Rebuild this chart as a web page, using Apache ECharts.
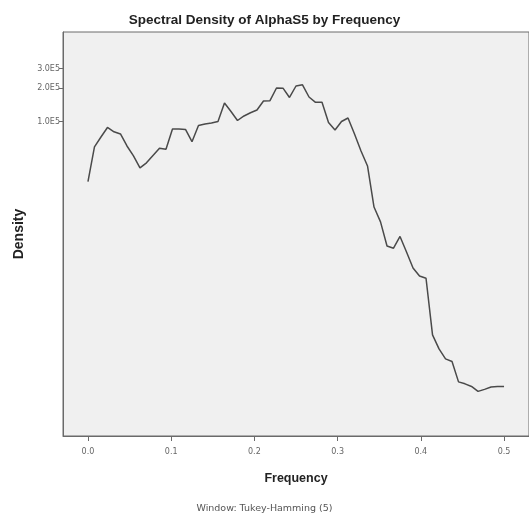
<!DOCTYPE html>
<html>
<head>
<meta charset="utf-8">
<script src="https://cdn.jsdelivr.net/npm/echarts@6/dist/echarts.min.js"></script>
<style>
  html, body { margin: 0; padding: 0; background: #fff; }
  #chart { width: 529px; height: 523px; }
</style>
</head>
<body>
<div id="chart"></div>
<script>
// Spectral density estimate, sampled at frequencies k/128 (k = 0..64)
var frequencies = [];
for (var k = 0; k <= 64; k++) frequencies.push(k / 128);

var density = [
  28800, 59200, 72800, 88700, 81100, 77500, 60400, 49100, 38300, 42600,
  49600, 57600, 56400, 86000, 86000, 85100, 66000, 92400, 95300, 97300,
  100400, 147400, 123600, 102500, 112600, 120300, 127500, 153600, 154600, 201200,
  200400, 165200, 209700, 215000, 166900, 149500, 149500, 98400, 84200, 100400,
  108000, 77500, 54500, 39900, 17000, 12500, 7590, 7240, 9240, 6700,
  4810, 4070, 3880, 1200, 896, 728, 689, 452, 434, 411,
  371, 387, 407, 410, 410
];

var xTicks = [0, 0.1, 0.2, 0.3, 0.4, 0.5];
var yTicks = [100000, 200000, 300000];

var chartTitle = 'Spectral Density of AlphaS5 by Frequency';
var footnote = 'Window: Tukey-Hamming (5)';

var points = frequencies.map(function (f, i) { return [f, density[i]]; });

var sans = 'Liberation Sans, Arial, sans-serif';
var wide = 'DejaVu Sans, sans-serif';

var chart = echarts.init(document.getElementById('chart'), null, { renderer: 'canvas' });
chart.setOption({
  animation: false,
  backgroundColor: '#ffffff',
  title: [
    {
      text: chartTitle,
      left: 'center',
      top: 8,
      textStyle: { fontFamily: sans, fontSize: 13.5, fontWeight: 'bold', color: '#222' }
    },
    {
      text: footnote,
      left: 'center',
      top: 499,
      textStyle: { fontFamily: wide, fontSize: 9.5, fontWeight: 'normal', color: '#555' }
    }
  ],
  grid: {
    left: 63,
    top: 32,
    right: -3,
    bottom: 87,
    show: true,
    backgroundColor: '#f0f0f0',
    borderColor: '#6a6a6a',
    borderWidth: 1
  },
  xAxis: {
    type: 'value',
    min: -0.03,
    max: 0.53,
    name: 'Frequency',
    nameLocation: 'middle',
    nameGap: 36,
    nameTextStyle: { fontFamily: sans, fontSize: 12.5, fontWeight: 'bold', color: '#222' },
    axisLine: { show: true, onZero: false, lineStyle: { color: '#6a6a6a', width: 1 } },
    axisTick: { show: true, customValues: xTicks, length: 5, lineStyle: { color: '#6a6a6a' } },
    axisLabel: {
      customValues: xTicks,
      fontFamily: wide,
      fontSize: 8,
      color: '#666',
      margin: 12,
      formatter: function (v) { return v.toFixed(1); }
    },
    splitLine: { show: false }
  },
  yAxis: {
    type: 'log',
    logBase: 10,
    min: 147,
    max: 643000,
    name: 'Density',
    nameLocation: 'middle',
    nameGap: 36,
    nameTextStyle: { fontFamily: sans, fontSize: 14, fontWeight: 'bold', color: '#222' },
    axisLine: { show: true, onZero: false, lineStyle: { color: '#6a6a6a', width: 1 } },
    axisTick: { show: true, customValues: yTicks, length: 4, lineStyle: { color: '#6a6a6a' } },
    axisLabel: {
      customValues: yTicks,
      fontFamily: wide,
      fontSize: 8,
      color: '#666',
      margin: 3,
      formatter: function (v) { return (v / 100000).toFixed(1) + 'E5'; }
    },
    splitLine: { show: false }
  },
  series: [
    {
      type: 'line',
      data: points,
      showSymbol: false,
      symbol: 'none',
      smooth: false,
      lineStyle: { color: '#4a4a4a', width: 1.5 }
    }
  ]
});
</script>
</body>
</html>
